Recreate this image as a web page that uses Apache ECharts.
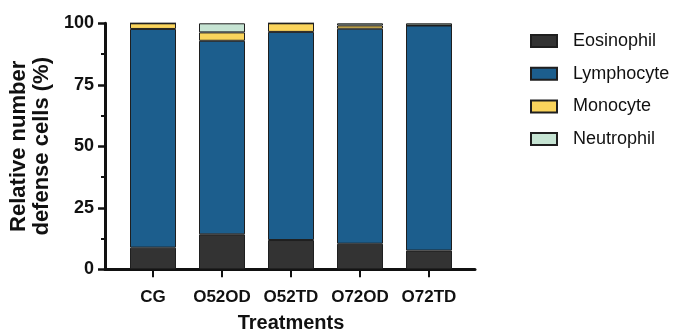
<!DOCTYPE html>
<html>
<head>
<meta charset="utf-8">
<script src="https://cdn.jsdelivr.net/npm/echarts@6/dist/echarts.min.js"></script>
<style>
  html, body { margin: 0; padding: 0; background: #ffffff; }
  #chart { width: 679px; height: 332px; }
</style>
</head>
<body>
<div id="chart"></div>
<script>
// Treatment groups along the x axis
const categories = ['CG', 'O52OD', 'O52TD', 'O72OD', 'O72TD'];

// Relative share (%) of each defense cell type per treatment
const eosinophil = [8.8, 14.2, 11.9, 10.4, 7.6];
const lymphocyte = [88.9, 78.7, 84.6, 87.4, 91.5];
const monocyte   = [2.3, 3.4, 3.5, 1.3, 0];
const neutrophil = [0, 3.7, 0, 0.9, 0.9];

const yTicks = [0, 25, 50, 75, 100];

const FONT = 'Liberation Sans, Arial, sans-serif';
const INK = '#111111';

const seriesDefs = [
  { name: 'Eosinophil', data: eosinophil, color: '#333333' },
  { name: 'Lymphocyte', data: lymphocyte, color: '#1c5e8d' },
  { name: 'Monocyte',   data: monocyte,   color: '#fad45c' },
  { name: 'Neutrophil', data: neutrophil, color: '#c6e4d3' }
];

const chart = echarts.init(document.getElementById('chart'), null, { renderer: 'canvas' });

chart.setOption({
  animation: false,
  backgroundColor: '#ffffff',
  grid: [
    // plotting area for the bars
    { left: 118.5, top: 23.3, width: 345, height: 246, containLabel: false, outerBoundsMode: 'none' },
    // wider band that carries the long baseline
    { left: 105, top: 23.3, width: 370, height: 246, containLabel: false, outerBoundsMode: 'none' }
  ],
  legend: {
    orient: 'vertical',
    left: 525,
    top: 27,
    itemWidth: 26,
    itemHeight: 12,
    itemGap: 14.7,
    selectedMode: false,
    icon: 'rect',
    data: seriesDefs.map(s => s.name),
    textStyle: {
      fontFamily: FONT,
      fontSize: 18,
      lineHeight: 18,
      color: INK,
      padding: [0, 0, 0, 11]
    }
  },
  xAxis: [
    {
      gridIndex: 0,
      type: 'category',
      data: categories,
      boundaryGap: true,
      axisLine: { show: false },
      axisTick: {
        show: true,
        alignWithLabel: true,
        interval: 0,
        length: 8,
        lineStyle: { color: INK, width: 2 }
      },
      axisLabel: {
        interval: 0,
        margin: 20,
        fontFamily: FONT,
        fontSize: 17,
        fontWeight: 'bold',
        color: INK
      },
      name: 'Treatments',
      nameLocation: 'middle',
      nameGap: 44,
      nameTextStyle: {
        fontFamily: FONT,
        fontSize: 20,
        fontWeight: 'bold',
        color: INK
      }
    },
    {
      gridIndex: 1,
      type: 'category',
      data: [''],
      axisLine: { show: true, lineStyle: { color: INK, width: 3 } },
      axisTick: { show: false },
      axisLabel: { show: false }
    }
  ],
  yAxis: [
    {
      gridIndex: 0,
      type: 'value',
      min: yTicks[0],
      max: yTicks[yTicks.length - 1],
      interval: 25,
      offset: 13.5,
      axisLine: { show: true, lineStyle: { color: INK, width: 3 } },
      axisTick: { show: true, length: 7, lineStyle: { color: INK, width: 2.5 } },
      minorTick: { show: true, splitNumber: 2, length: 4, lineStyle: { color: INK, width: 2 } },
      splitLine: { show: false },
      minorSplitLine: { show: false },
      axisLabel: {
        margin: 11,
        fontFamily: FONT,
        fontSize: 18,
        fontWeight: 'bold',
        color: INK
      },
      name: 'Relative number\ndefense cells (%)',
      nameLocation: 'middle',
      nameRotate: 90,
      nameGap: 49,
      nameTextStyle: {
        fontFamily: FONT,
        fontSize: 22,
        fontWeight: 'bold',
        lineHeight: 23,
        color: INK
      }
    },
    {
      gridIndex: 1,
      type: 'value',
      show: false
    }
  ],
  series: seriesDefs.map(s => ({
    name: s.name,
    type: 'bar',
    xAxisIndex: 0,
    yAxisIndex: 0,
    stack: 'cells',
    barWidth: 46,
    data: s.data,
    itemStyle: { color: s.color, borderColor: '#1f1f1f', borderWidth: 1 },
    emphasis: { disabled: true }
  }))
});
</script>
</body>
</html>
